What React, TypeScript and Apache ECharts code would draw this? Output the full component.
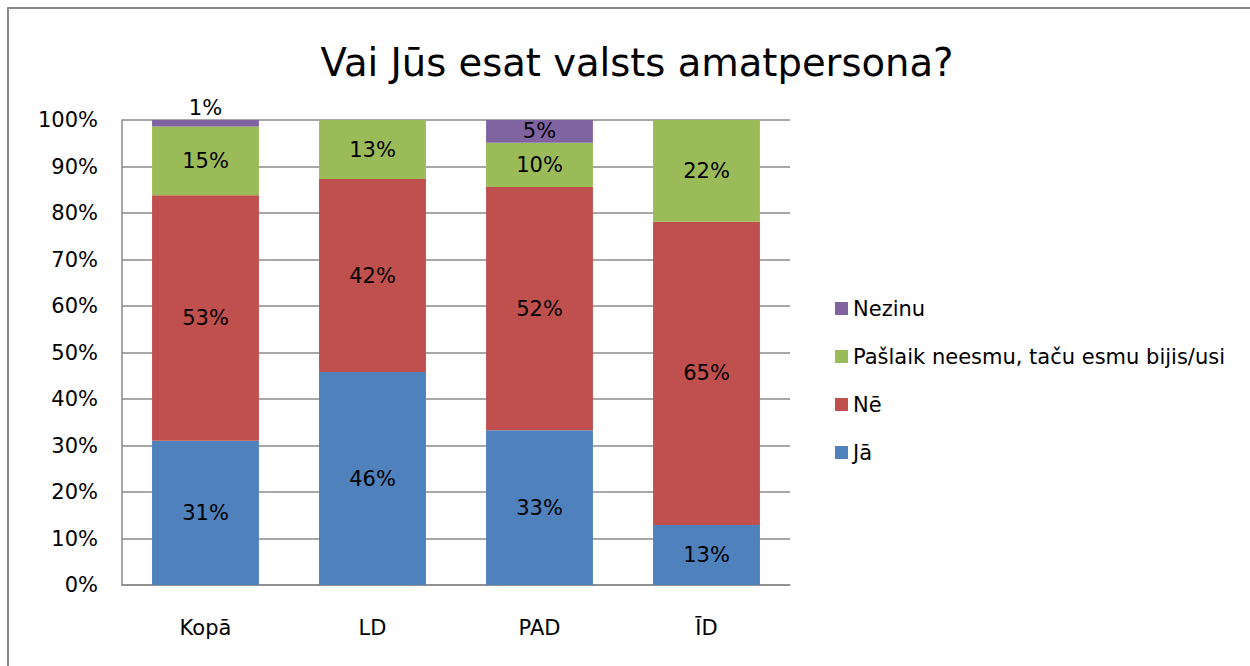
import React, { useEffect, useRef } from "react";
import * as echarts from "echarts";

const categories = ["Kopā", "LD", "PAD", "ĪD"];
const seriesNames = ["Jā", "Nē", "Pašlaik neesmu, taču esmu bijis/usi", "Nezinu"];
const jaValues = [31.0, 45.8, 33.3, 12.9];
const neValues = [52.8, 41.5, 52.3, 65.2];
const pasValues = [14.8, 12.7, 9.5, 21.9];
const nezinuValues = [1.4, 0, 4.9, 0];
const yTicks = [0, 10, 20, 30, 40, 50, 60, 70, 80, 90, 100];

const colors = ["#4F81BD", "#C0504D", "#9BBB59", "#8064A2"];
const FONT = "DejaVu Sans";

export default function App() {
  const ref = useRef<HTMLDivElement>(null);
  useEffect(() => {
    document.body.style.margin = "0";
    const chart = echarts.init(ref.current!, undefined, { renderer: "svg" });
    const values = [jaValues, neValues, pasValues, nezinuValues];
    const labelFmt = (p: any) => (p.value > 0 ? Math.round(p.value) + "%" : "");
    chart.setOption({
      animation: false,
      textStyle: { fontFamily: FONT },
      title: {
        text: "Vai Jūs esat valsts amatpersona?",
        left: 632,
        textAlign: "center",
        top: 38,
        textStyle: { fontFamily: FONT, fontSize: 38.5, fontWeight: "normal", color: "#000" },
      },
      graphic: [
        {
          type: "rect",
          shape: { x: 8, y: 8, width: 1400, height: 800 },
          style: { fill: "none", stroke: "#8a8a8a", lineWidth: 2 },
          silent: true,
        },
      ],
      legend: {
        orient: "vertical",
        left: 830,
        top: 293,
        itemWidth: 13,
        itemHeight: 13,
        itemGap: 27,
        data: [seriesNames[3], seriesNames[2], seriesNames[1], seriesNames[0]],
        textStyle: { fontFamily: FONT, fontSize: 21, color: "#000", lineHeight: 21 },
        icon: "rect",
      },
      grid: { left: 122, right: 460, top: 120, bottom: 81 },
      xAxis: {
        type: "category",
        data: categories,
        axisLine: { lineStyle: { color: "#8a8a8a", width: 1.5 } },
        axisTick: { show: false },
        axisLabel: { fontFamily: FONT, fontSize: 21, color: "#000", margin: 32 },
      },
      yAxis: {
        type: "value",
        min: yTicks[0],
        max: yTicks[yTicks.length - 1],
        interval: 10,
        axisLine: { show: true, lineStyle: { color: "#8a8a8a", width: 1.5 } },
        axisTick: { show: false },
        splitLine: { lineStyle: { color: "#8a8a8a", width: 1.5 } },
        axisLabel: { fontFamily: FONT, fontSize: 21, color: "#000", margin: 24, formatter: "{value}%" },
      },
      series: seriesNames.map((n, i) => ({
        name: n,
        type: "bar",
        stack: "total",
        barWidth: "64%",
        itemStyle: { color: colors[i] },
        label: {
          show: true,
          position: "inside",
          formatter: labelFmt,
          fontFamily: FONT,
          fontSize: 21,
          color: "#000",
        },
        data: values[i].map((v, j) =>
          i === 3 && j === 0
            ? { value: v, label: { position: "top", distance: 2 } }
            : v
        ),
      })),
    });
    return () => chart.dispose();
  }, []);
  return <div ref={ref} style={{ width: 1250, height: 666 }} />;
}
